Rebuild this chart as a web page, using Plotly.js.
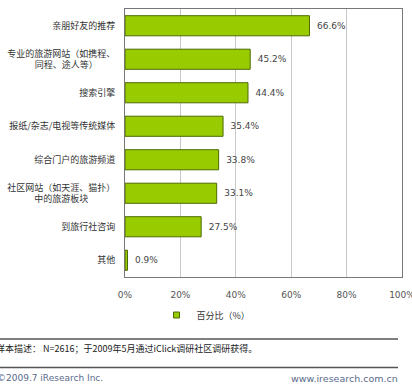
<!DOCTYPE html>
<html><head><meta charset="utf-8">
<script src="https://cdn.plot.ly/plotly-3.0.1.min.js"></script>
<style>html,body{margin:0;padding:0;background:#fff;}#c{width:412px;height:385px;}</style>
</head><body><div id="c"></div>
<script>
const categories = [
  "亲朋好友的推荐",
  "专业的旅游网站（如携程、<br>同程、途人等）\u3000\u3000\u00A0\u00A0\u200B",
  "搜索引擎",
  "报纸/杂志/电视等传统媒体",
  "综合门户的旅游频道",
  "社区网站（如天涯、猫扑）<br>中的旅游板块\u3000\u3000\u3000\u200B",
  "到旅行社咨询",
  "其他"
];
const values = [66.6, 45.2, 44.4, 35.4, 33.8, 33.1, 27.5, 0.9];
const xTicks = [0, 20, 40, 60, 80, 100];
const seriesName = "百分比（%）";
const noteText = "样本描述： N=2616；于2009年5月通过iClick调研社区调研获得。";
const footLeft = "©2009.7 iResearch Inc.";
const footRight = "www.iresearch.com.cn";

const cjk = "Noto Sans CJK SC, sans-serif";
const lat = "DejaVu Sans, Noto Sans CJK SC, sans-serif";

const data = [
  {
    type: "bar", orientation: "h",
    y: categories, x: values,
    marker: {color: "#99cc00", line: {color: "#4d6a00", width: 1}},
    texttemplate: "\u2002%{x:.1f}%", textposition: "outside",
    textfont: {family: lat, size: 9, color: "#444"},
    cliponaxis: false, showlegend: false, hoverinfo: "none"
  },
  {
    type: "scatter", mode: "markers", x: [null], y: [null],
    name: seriesName,
    marker: {symbol: "square", size: 6, color: "#99cc00", line: {color: "#4d6a00", width: 1}},
    showlegend: true
  }
];

const layout = {
  width: 412, height: 385,
  margin: {l: 125, r: 10, t: 9, b: 108},
  paper_bgcolor: "#fff", plot_bgcolor: "#fff",
  bargap: 0.4,
  font: {family: cjk, size: 9, color: "#333"},
  xaxis: {
    range: [0, 100.001], tickvals: xTicks, ticktext: xTicks.map(v => v + "%"),
    showgrid: true, gridcolor: "#c8c8c8", gridwidth: 1,
    showline: true, linecolor: "#777", linewidth: 1, mirror: true,
    zeroline: false, ticks: "", ticklabelstandoff: 9, ticklabeloverflow: "allow",
    tickfont: {family: lat, size: 9, color: "#555"}, fixedrange: true
  },
  yaxis: {
    type: "category", autorange: "reversed",
    showline: true, linecolor: "#777", linewidth: 1, mirror: true,
    showgrid: false, zeroline: false, ticks: "", ticklabelstandoff: 7,
    tickfont: {family: cjk, size: 9, color: "#333"}, fixedrange: true
  },
  showlegend: true,
  legend: {
    orientation: "h", xref: "container", yref: "container",
    x: 0.5, xanchor: "center", y: 1 - 315/385, yanchor: "middle",
    font: {family: cjk, size: 9, color: "#333"}, itemwidth: 30,
    bgcolor: "rgba(0,0,0,0)"
  },
  shapes: [
    {type: "line", xref: "paper", yref: "paper", x0: -125/277, x1: 273/277,
     y0: -(339-277)/268, y1: -(339-277)/268, line: {color: "#555", width: 1.5}},
    {type: "line", xref: "paper", yref: "paper", x0: -125/277, x1: 273/277,
     y0: -(367.5-277)/268, y1: -(367.5-277)/268, line: {color: "#555", width: 1.5}}
  ],
  annotations: [
    {text: noteText, xref: "paper", yref: "paper", x: -131/277, xanchor: "left",
     y: -(349-277)/268, yanchor: "middle", showarrow: false,
     font: {family: cjk, size: 9, color: "#222"}},
    {text: footLeft, xref: "paper", yref: "paper", x: -130/277, xanchor: "left",
     y: -(378-277)/268, yanchor: "middle", showarrow: false,
     font: {family: lat, size: 9, color: "#5b6b8c"}},
    {text: footRight, xref: "paper", yref: "paper", x: 275/277, xanchor: "right",
     y: -(378-277)/268, yanchor: "middle", showarrow: false,
     font: {family: lat, size: 9.5, color: "#5b6b8c"}}
  ]
};

Plotly.newPlot("c", data, layout, {displayModeBar: false, staticPlot: true});
</script></body></html>
